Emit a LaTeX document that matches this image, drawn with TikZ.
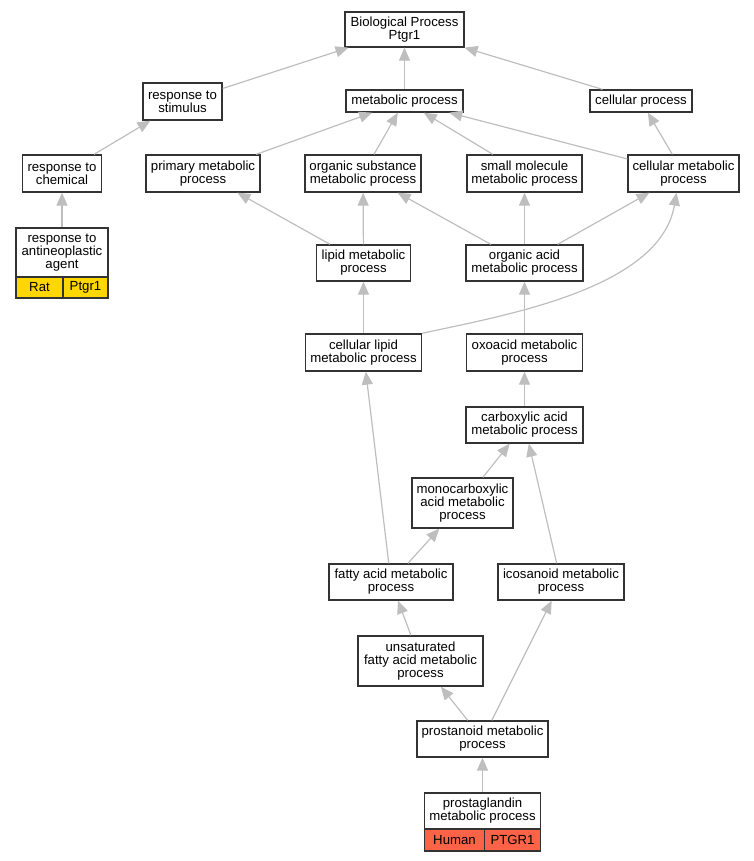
\documentclass[tikz,border=0pt]{standalone}
\usepackage{fontspec}
\setmainfont{Liberation Sans}
\usetikzlibrary{arrows.meta}
\definecolor{edgegray}{HTML}{BEBEBE}
\definecolor{ratgold}{HTML}{FFD700}
\definecolor{humanred}{HTML}{FF6347}

\begin{document}
\begin{tikzpicture}[x=1pt, y=-1pt,
    term/.style={draw=black!80, line width=1.3pt, fill=white, align=center, inner sep=0pt, font=\fontsize{13.2}{13}\selectfont},
    isa/.style={draw=edgegray, line width=1.2pt, -{Triangle[length=13pt, width=11pt]}}]
    \useasboundingbox (0,0) rectangle (753,861);
    \node[term, minimum width=119pt, minimum height=35pt] (BP) at (404.5, 29.5){Biological Process\\Ptgr1};
    \node[term, minimum width=79pt, minimum height=37pt] (RS) at (182.5, 101.5){response to\\stimulus};
    \node[term, minimum width=117pt, minimum height=22pt] (MP) at (404.5, 101){metabolic process};
    \node[term, minimum width=102pt, minimum height=22pt] (CP) at (641, 101){cellular process};
    \node[term, minimum width=79pt, minimum height=37pt] (RC) at (62, 173.5){response to\\chemical};
    \node[term, minimum width=114pt, minimum height=37pt] (PMP) at (203, 173.5){primary metabolic\\process};
    \node[term, minimum width=116pt, minimum height=37pt] (OSMP) at (363, 173.5){organic substance\\metabolic process};
    \node[term, minimum width=115pt, minimum height=37pt] (SMMP) at (524.5, 173.5){small molecule\\metabolic process};
    \node[term, minimum width=111pt, minimum height=37pt] (CMP) at (683.5, 173.5){cellular metabolic\\process};
    \node[term, minimum width=92pt, minimum height=49pt] (RAA) at (62, 252.5){response to\\antineoplastic\\agent};
    \node[term, fill=ratgold, minimum width=47pt, minimum height=21pt] (RAAsp) at (39.5, 287.5){Rat};
    \node[term, fill=ratgold, minimum width=45pt, minimum height=21pt] (RAAgn) at (85.5, 287.5){Ptgr1};
    \node[term, minimum width=94pt, minimum height=36pt] (LMP) at (363.5, 263){lipid metabolic\\process};
    \node[term, minimum width=117pt, minimum height=36pt] (OAMP) at (524.5, 263){organic acid\\metabolic process};
    \node[term, minimum width=116pt, minimum height=37pt] (CLMP) at (363.5, 352.5){cellular lipid\\metabolic process};
    \node[term, minimum width=116pt, minimum height=37pt] (OXMP) at (524.5, 352.5){oxoacid metabolic\\process};
    \node[term, minimum width=117pt, minimum height=36pt] (CAMP) at (524.5, 425){carboxylic acid\\metabolic process};
    \node[term, minimum width=101pt, minimum height=50pt] (MCAMP) at (462.5, 503){monocarboxylic\\acid metabolic\\process};
    \node[term, minimum width=124pt, minimum height=36pt] (FAMP) at (391, 582){fatty acid metabolic\\process};
    \node[term, minimum width=126pt, minimum height=36pt] (IMP) at (561, 582){icosanoid metabolic\\process};
    \node[term, minimum width=125pt, minimum height=50pt] (UFAMP) at (420.5, 661){unsaturated\\fatty acid metabolic\\process};
    \node[term, minimum width=131pt, minimum height=36pt] (PNMP) at (482.5, 739){prostanoid metabolic\\process};
    \node[term, minimum width=116pt, minimum height=36pt] (PGMP) at (482.5, 811){prostaglandin\\metabolic process};
    \node[term, fill=humanred, minimum width=60pt, minimum height=22pt] (PGMPsp) at (454.5, 840){Human};
    \node[term, fill=humanred, minimum width=56pt, minimum height=22pt] (PGMPgn) at (512.5, 840){PTGR1};
    \draw[isa] (RS)--(BP);
    \draw[isa] (MP)--(BP);
    \draw[isa] (CP)--(BP);
    \draw[isa] (RC)--(RS);
    \draw[isa] (PMP)--(MP);
    \draw[isa] (OSMP)--(MP);
    \draw[isa] (SMMP)--(MP);
    \draw[isa] (CMP)--(MP);
    \draw[isa] (CMP)--(CP);
    \draw[isa] (RAA)--(RC);
    \draw[isa] (LMP)--(PMP);
    \draw[isa] (LMP)--(OSMP);
    \draw[isa] (OAMP)--(OSMP);
    \draw[isa] (OAMP)--(SMMP);
    \draw[isa] (OAMP)--(CMP);
    \draw[isa] (CLMP)--(LMP);
    \draw[isa] (CLMP.north east) .. controls (500, 316) and (660, 290) .. (CMP.-110);
    \draw[isa] (OXMP)--(OAMP);
    \draw[isa] (CAMP)--(OXMP);
    \draw[isa] (MCAMP)--(CAMP);
    \draw[isa] (IMP)--(CAMP);
    \draw[isa] (FAMP)--(CLMP);
    \draw[isa] (FAMP)--(MCAMP);
    \draw[isa] (UFAMP)--(FAMP);
    \draw[isa] (PNMP)--(UFAMP);
    \draw[isa] (PNMP)--(IMP);
    \draw[isa] (PGMP)--(PNMP);
  \end{tikzpicture}
\end{document}
